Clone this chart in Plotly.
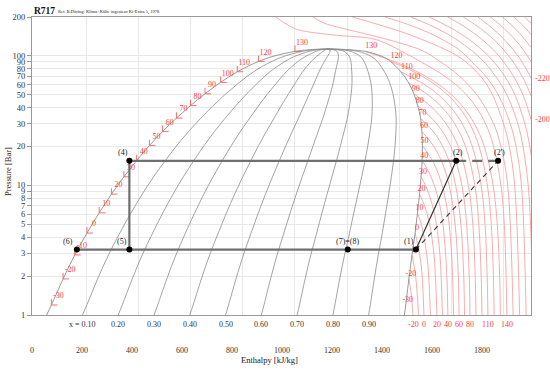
import numpy as np
import plotly.graph_objects as go

# ---------------- data ----------------
# saturation dome of R717 (ammonia)
sat_T = [-33.6, -30, -20, -10, 0, 10, 20, 30, 40, 50, 60, 70, 80, 90, 100, 110, 120, 125, 130, 131.5, 132.25]
sat_P = [1.0, 1.195, 1.90, 2.91, 4.29, 6.15, 8.57, 11.67, 15.55, 20.33, 26.15, 33.12, 41.4, 51.1, 62.5, 75.6, 90.8, 99.3, 108.5, 111.5, 113.3]
sat_hl = [45, 63, 108, 153, 200, 247, 294, 342, 391, 440, 491, 544, 598, 654, 714, 778, 860, 915, 1000, 1050, 1127]
sat_hv = [1421, 1426, 1438, 1450, 1462, 1471, 1479, 1485, 1489, 1490, 1488, 1483, 1472, 1457, 1436, 1407, 1367, 1335, 1270, 1215, 1127]

qualities = [0.1, 0.2, 0.3, 0.4, 0.5, 0.6, 0.7, 0.8, 0.9]
quality_text = ["x = 0.10", "0.20", "0.30", "0.40", "0.50", "0.60", "0.70", "0.80", "0.90"]

# isotherms (superheated / supercritical region)
iso_T = [-20, -10, 0, 10, 20, 30, 40, 50, 60, 70, 80, 90, 100, 110, 120, 130,
         140, 150, 160, 170, 180, 190, 200, 210, 220, 230, 240, 250, 260]
iso_P = [
    [1, 1.5, 1.9],
    [1, 2, 2.91],
    [1, 2, 3, 4.29],
    [1, 2, 3, 5, 6.15],
    [1, 2, 3, 5, 7, 8.57],
    [1, 2, 3, 5, 7, 10, 11.67],
    [1, 2, 3, 5, 7, 10, 13, 15.55],
    [1, 2, 3, 5, 7, 10, 15, 20.33],
    [1, 2, 5, 10, 15, 20, 26.15],
    [1, 2, 5, 10, 15, 20, 25, 33.12],
    [1, 2, 5, 10, 20, 30, 41.4],
    [1, 2, 5, 10, 20, 30, 40, 51.1],
    [1, 2, 5, 10, 20, 30, 40, 50, 62.5],
    [1, 2, 5, 10, 20, 30, 40, 50, 60, 75.6],
    [1, 2, 5, 10, 20, 30, 40, 50, 60, 70, 80, 90.8],
    [1, 2, 5, 10, 20, 30, 40, 50, 60, 70, 80, 90, 100, 108.5],
    [1, 5, 10, 20, 30, 40, 50, 60, 70, 80, 90, 100, 110, 120, 130, 137, 147, 160, 175, 200],
    [1, 10, 20, 30, 50, 70, 90, 110, 130, 150, 165, 180, 200],
    [1, 10, 20, 30, 57, 80, 100, 113, 130, 150, 175, 200],
    [1, 10, 20, 30, 50, 70, 90, 113, 130, 150, 175, 200],
    [1, 2, 5, 10, 20, 30, 50, 70, 90, 110, 130, 150, 175, 200],
    [1, 5, 10, 20, 30, 50, 70, 90, 110, 130, 150, 175, 200],
    [1, 10, 20, 30, 40, 50, 70, 90, 110, 130, 150, 175, 200],
    [1, 30, 40, 50, 70, 90, 110, 130, 150, 175, 200],
    [1, 50, 60, 70, 90, 110, 130, 150, 175, 200],
    [1, 80, 90, 110, 130, 150, 175, 200],
    [1, 110, 120, 150, 175, 200],
    [1, 140, 150, 175, 200],
    [1, 170, 180, 200],
]
iso_h = [
    [1454, 1446, 1438],
    [1475, 1464, 1450],
    [1496, 1489, 1479, 1462],
    [1521, 1514, 1506, 1486, 1471],
    [1546, 1540, 1534, 1518, 1498, 1479],
    [1567, 1562, 1557, 1544, 1529, 1502, 1485],
    [1588, 1584, 1579, 1569, 1557, 1536, 1512, 1489],
    [1610, 1606, 1602, 1593, 1583, 1566, 1533, 1490],
    [1631, 1628, 1616, 1593, 1566, 1534, 1488],
    [1652, 1649, 1638, 1618, 1595, 1568, 1539, 1483],
    [1673, 1670, 1660, 1642, 1599, 1545, 1472],
    [1696, 1693, 1684, 1667, 1628, 1581, 1527, 1457],
    [1719, 1716, 1707, 1692, 1656, 1614, 1566, 1512, 1436],
    [1742, 1739, 1731, 1716, 1682, 1643, 1600, 1552, 1499, 1407],
    [1766, 1763, 1755, 1740, 1708, 1672, 1632, 1588, 1540, 1488, 1432, 1367],
    [1790, 1787, 1778, 1762, 1728, 1690, 1648, 1603, 1554, 1501, 1445, 1385, 1322, 1270],
    [1815, 1805, 1792, 1764, 1733, 1698, 1660, 1619, 1575, 1530, 1484, 1445, 1405, 1370, 1330, 1290, 1123, 1010, 970, 925],
    [1839, 1818, 1792, 1764, 1700, 1632, 1560, 1490, 1380, 1260, 1175, 1110, 1070],
    [1864, 1845, 1824, 1802, 1745, 1686, 1625, 1575, 1505, 1425, 1320, 1220],
    [1889, 1871, 1850, 1828, 1782, 1733, 1681, 1628, 1578, 1518, 1435, 1345],
    [1914, 1912, 1906, 1897, 1877, 1857, 1815, 1771, 1727, 1680, 1631, 1581, 1514, 1445],
    [1938, 1931, 1922, 1903, 1884, 1846, 1806, 1765, 1723, 1678, 1634, 1574, 1516],
    [1962, 1947, 1929, 1912, 1894, 1877, 1840, 1803, 1766, 1727, 1688, 1638, 1587],
    [1987, 1940, 1923, 1907, 1873, 1839, 1805, 1771, 1736, 1692, 1647],
    [2011, 1935, 1920, 1904, 1873, 1842, 1811, 1780, 1741, 1703],
    [2036, 1923, 1909, 1880, 1852, 1823, 1787, 1751],
    [2060, 1916, 1903, 1863, 1830, 1797],
    [2085, 1915, 1903, 1873, 1842],
    [2110, 1917, 1906, 1883],
]

# refrigeration cycle
cycle_names = ["(1)", "(2)", "(2')", "(4)", "(5)", "(6)", "(7)=(8)"]
cycle_h = [1465, 1620, 1781, 363, 363, 161, 1203]
cycle_P = [3.2, 15.5, 15.5, 15.5, 3.2, 3.2, 3.2]

# labels
liq_label_T = [-30, -20, -10, 0, 10, 20, 30, 40, 50, 60, 70, 80, 90, 100, 110, 120, 130]
vap_label_T = [130, 120, 110, 100, 90, 80, 70, 60, 50, 40, 30, 20, 10, 0, -10, -20, -30]
bottom_label_T = [-20, 0, 20, 40, 60, 80, 110, 140]
right_label_T = [220, 200]
p_ticks = [1, 2, 3, 4, 5, 6, 7, 8, 9, 10, 20, 30, 40, 50, 60, 70, 80, 90, 100, 200]
h_grid = [200, 400, 600, 800, 1000, 1200, 1400, 1600, 1800]
enthalpy_ticks = [0, 200, 400, 600, 800, 1000, 1200, 1400, 1600, 1800]

# ---------------- styling ----------------
SERIF = "Liberation Serif, Times New Roman, serif"
RED_TXT = "#ff3b3b"
ISO_COL = "#f7a3a3"
GRAY = "#8c8c8c"
H_RANGE = [-11.5, 1907.7]
PX_PER_H = 499 / (H_RANGE[1] - H_RANGE[0])     # plot width / enthalpy span
PX_PER_DEC = 302 / np.log10(200)               # plot height / decades


def dx(px):
    return px / PX_PER_H


def fy(px):
    return 10 ** (px / PX_PER_DEC)


fig = go.Figure()


def line(x, y, color, width, dash=None, shape="linear"):
    fig.add_trace(go.Scatter(x=x, y=y, mode="lines",
                             line=dict(color=color, width=width, dash=dash, shape=shape),
                             hoverinfo="skip", showlegend=False))


# isotherms
for T, Ps, hs in zip(iso_T, iso_P, iso_h):
    line(hs, Ps, ISO_COL, 0.9, shape="spline")

# quality lines
for q in qualities:
    xs = [l + q * (v - l) for l, v in zip(sat_hl, sat_hv)]
    line(xs, sat_P, GRAY, 0.8, shape="spline")

# saturation dome
dome_x = sat_hl + sat_hv[::-1][1:]
dome_y = sat_P + sat_P[::-1][1:]
line(dome_x, dome_y, GRAY, 0.9, shape="spline")

# L-shaped ticks on saturated liquid line
tx, ty = [], []
for T in liq_label_T:
    i = sat_T.index(T)
    h, p = sat_hl[i], sat_P[i]
    tx += [h, h, h + dx(6), None]
    ty += [p * fy(6), p, p, None]
line(tx, ty, "#ff5a5a", 0.9)

# temperature labels along the saturation lines (as text traces, under the cycle)
lab_x, lab_y, lab_t = [], [], []
for T in liq_label_T:
    i = sat_T.index(T)
    lab_x.append(sat_hl[i] + dx(7))
    lab_y.append(sat_P[i] * fy(9))
    lab_t.append(str(T))
for T in vap_label_T:
    i = sat_T.index(T)
    lab_x.append(sat_hv[i] + dx(6 if T >= 100 else 2))
    lab_y.append(sat_P[i] * fy(5))
    lab_t.append(str(T))
fig.add_trace(go.Scatter(x=lab_x, y=lab_y, text=lab_t, mode="text", textposition="middle center",
                         textfont=dict(family=SERIF, size=8, color=RED_TXT),
                         hoverinfo="skip", showlegend=False, cliponaxis=False))

# cycle lines
i1, i2, i2p, i4, i5, i6, i78 = range(7)
line([cycle_h[i6], cycle_h[i1]], [cycle_P[i6], cycle_P[i1]], "#6f6f6f", 2.2)
line([cycle_h[i5], cycle_h[i4], cycle_h[i2]], [cycle_P[i5], cycle_P[i4], cycle_P[i2]], "#6f6f6f", 2.2)
line([cycle_h[i2], cycle_h[i2p]], [cycle_P[i2], cycle_P[i2p]], "#6f6f6f", 2.2, dash="10px,6px")
line([cycle_h[i1], cycle_h[i2]], [cycle_P[i1], cycle_P[i2]], "#333333", 1.2)
line([cycle_h[i1], cycle_h[i2p]], [cycle_P[i1], cycle_P[i2p]], "#333333", 1.1, dash="5px,4px")
fig.add_trace(go.Scatter(x=cycle_h, y=cycle_P, mode="markers",
                         marker=dict(color="black", size=6), hoverinfo="skip", showlegend=False))

# dummy trace to carry the enthalpy label axis
fig.add_trace(go.Scatter(x=[900], y=[1.5], xaxis="x2", mode="markers",
                         marker=dict(opacity=0), hoverinfo="skip", showlegend=False))

ann = []


def txt(x, y, s, size=8, color="#222", xref="x", yref="y", xanchor="center", yanchor="middle",
        xshift=0, yshift=0, **kw):
    ann.append(dict(x=x, y=y, text=s, xref=xref, yref=yref, showarrow=False,
                    xanchor=xanchor, yanchor=yanchor, xshift=xshift, yshift=yshift,
                    font=dict(family=SERIF, size=size, color=color), **kw))


# bottom labels of isotherms (at 1 bar)
for T in bottom_label_T:
    k = iso_T.index(T)
    txt(iso_h[k][0], 0, str(T), color=RED_TXT, yref="paper", yanchor="top", yshift=-3)

# right edge labels
for T in right_label_T:
    k = iso_T.index(T)
    lp = np.interp(H_RANGE[1], iso_h[k][::-1], np.log10(iso_P[k])[::-1])
    txt(1, lp, "-" + str(T), color=RED_TXT, xref="paper", xanchor="left", xshift=2)

# quality labels
for q, s in zip(qualities, quality_text):
    hq = sat_hl[0] + q * (sat_hv[0] - sat_hl[0])
    txt(hq, 0, s, color="#333", yref="paper", yanchor="top", yshift=-3)

# cycle point labels
shifts = {"(1)": (-7, 8), "(2)": (2, 8), "(2')": (1, 8), "(4)": (-6, 8),
          "(5)": (-7, 8), "(6)": (-9, 8), "(7)=(8)": (0, 8)}
for n, h, p in zip(cycle_names, cycle_h, cycle_P):
    sx, sy = shifts[n]
    txt(h, np.log10(p), n, color="#222", xshift=sx, yshift=sy)

# titles
txt(0, 1, "<b>R717</b>", size=9.5, color="#111", xref="paper", yref="paper",
    xanchor="left", yanchor="bottom", xshift=0, yshift=-1)
txt(0.048, 1, "Ref. B.Döring: Klima+Kälte ingenieur Ki-Extra 5, 1978", size=4.5, color="#222",
    xref="paper", yref="paper", xanchor="left", yanchor="bottom", yshift=0)
txt(0.475, -0.152, "Enthalpy [kJ/kg]", size=8.5, color="#222", xref="paper", yref="paper")
txt(-0.048, 0.48, "Pressure [Bar]", size=8.5, color="#222", xref="paper", yref="paper", textangle=-90)

fig.update_layout(
    width=550, height=370,
    margin=dict(l=32, r=19, t=13, b=55),
    paper_bgcolor="white", plot_bgcolor="white",
    showlegend=False,
    annotations=ann,
    xaxis=dict(range=H_RANGE, tickvals=h_grid, showticklabels=False, ticks="",
               showgrid=True, gridcolor="#e8e8e8", gridwidth=1, zeroline=False,
               showline=True, linecolor="#999", linewidth=1, mirror=True),
    xaxis2=dict(overlaying="x", anchor="y", side="bottom", range=[0, 1996],
                tickvals=enthalpy_ticks, ticktext=[str(v) for v in enthalpy_ticks],
                showgrid=False, zeroline=False, showline=False, ticks="",
                ticklabelstandoff=29,
                tickfont=dict(family=SERIF, size=8, color="#333")),
    yaxis=dict(type="log", range=[0, np.log10(200)], tickvals=p_ticks,
               ticktext=[str(v) for v in p_ticks], ticks="outside", ticklen=4, tickcolor="#999",
               showgrid=True, gridcolor="#e8e8e8", zeroline=False,
               showline=True, linecolor="#999", linewidth=1, mirror=True,
               tickfont=dict(family=SERIF, size=8.5, color="#333")),
)

fig.write_html("out.html", config={"displayModeBar": False},
               post_script="document.body.style.margin='0';document.body.style.padding='0';")
